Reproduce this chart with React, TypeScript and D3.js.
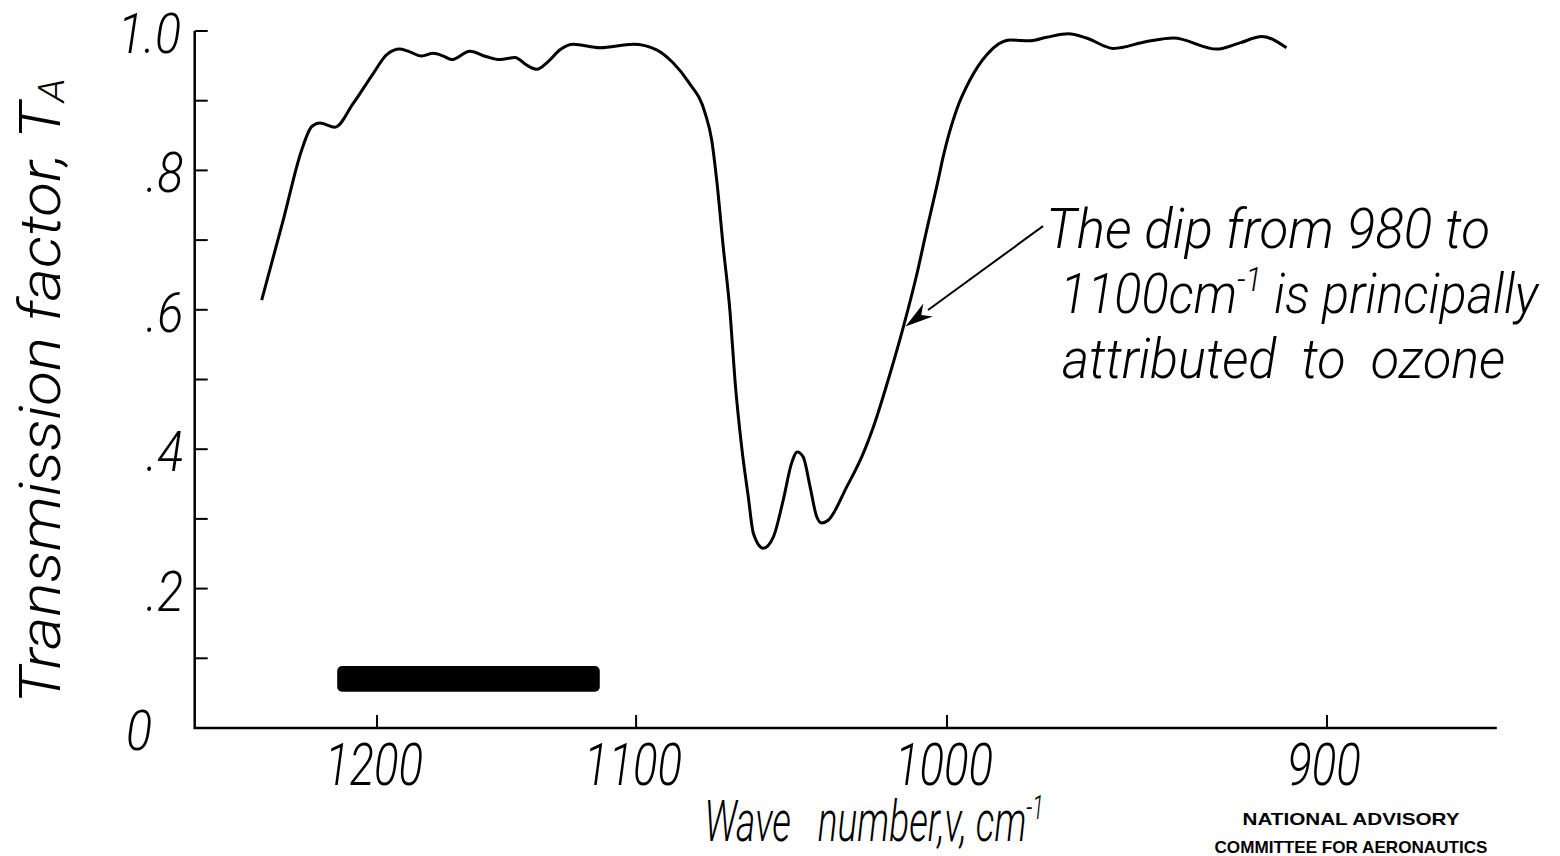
import React from 'react';
import * as d3 from 'd3';

// Wave number (cm^-1) and transmission factor T_A
const waveNumber = [
  1250.6, 1240.8, 1232.6, 1228.1, 1224.5, 1218.0, 1210.1, 1201.6, 1195.9, 1190.4,
  1186.3, 1181.5, 1176.8, 1172.7, 1169.4, 1162.1, 1155.5, 1150.4, 1144.6, 1140.1,
  1136.3, 1132.0, 1127.6, 1122.7, 1112.9, 1101.0, 1092.8, 1087.0, 1081.8, 1076.1,
  1073.9, 1072.2, 1070.0, 1067.7, 1066.1, 1063.9, 1061.7, 1060.0, 1056.8, 1053.5,
  1050.3, 1047.6, 1045.8, 1043.9, 1041.7, 1039.6, 1038.0, 1036.0, 1030.2, 1025.1,
  1022.0, 1016.9, 1012.9, 1008.9, 1006.0, 1002.6, 1001.1, 997.2, 993.3, 988.5,
  981.9, 976.3, 971.7, 965.7, 960.8, 953.6, 944.8, 937.9, 926.9, 921.1,
  915.7, 909.7,
];
const transmission = [
  0.614, 0.729, 0.829, 0.863, 0.868, 0.862, 0.896, 0.939, 0.966, 0.974,
  0.970, 0.964, 0.968, 0.964, 0.959, 0.971, 0.963, 0.959, 0.962, 0.951,
  0.945, 0.956, 0.973, 0.981, 0.976, 0.981, 0.973, 0.954, 0.927, 0.882,
  0.844, 0.786, 0.690, 0.595, 0.499, 0.404, 0.332, 0.279, 0.258, 0.274,
  0.327, 0.380, 0.396, 0.389, 0.346, 0.303, 0.294, 0.298, 0.346, 0.394,
  0.432, 0.509, 0.576, 0.651, 0.714, 0.786, 0.820, 0.887, 0.930, 0.966,
  0.987, 0.986, 0.991, 0.996, 0.990, 0.975, 0.985, 0.990, 0.974, 0.983,
  0.992, 0.976,
];

const xTicks = [1200, 1100, 1000, 900];
const xTickLabels = ['1200', '1100', '1000', '900'];
const yMajorTicks = [0, 0.2, 0.4, 0.6, 0.8, 1.0];
const yTickLabels = ['0', '.2', '.4', '.6', '.8', '1.0'];
const yMinorTicks = [0.1, 0.3, 0.5, 0.7, 0.9];
const xDomainEnds = [1282, 861.5];

const smudgeSpan = [1217, 1113];
const smudgeLevels = [0.052, 0.089];

const arrowFrom = [972.7, 0.72];
const arrowTo = [1012.3, 0.576];

const noteLine1 = 'The dip from 980 to';
const noteLine2a = '1100cm';
const noteLine2sup = '-1';
const noteLine2b = ' is principally';
const noteLine3 = 'attributed\u00A0 to\u00A0 ozone';
const creditLines = ['NATIONAL ADVISORY', 'COMMITTEE FOR AERONAUTICS'];
const creditWidths = [217, 273];

const W = 1560;
const H = 856;
const LET = "Roboto, 'DejaVu Sans', sans-serif";

export default function App() {
  // the abscissa is linear in wavelength (1/wave number)
  const lam = d3.scaleLinear().domain([1e4 / 1200, 1e4 / 900]).range([377, 1327]);
  const x = (nu: number) => lam(1e4 / nu);
  const y = d3.scaleLinear().domain([0, 1]).range([728, 31]);

  const pts: [number, number][] = waveNumber.map((v, i) => [v, transmission[i]]);
  const line = d3
    .line<[number, number]>()
    .x((d) => x(d[0]))
    .y((d) => y(d[1]))
    .curve(d3.curveMonotoneX);

  const x0 = x(xDomainEnds[0]);
  const x1 = x(xDomainEnds[1]);
  const yb = y(0);
  const yt = y(1);

  const ax = x(arrowFrom[0]);
  const ay = y(arrowFrom[1]);
  const bx = x(arrowTo[0]);
  const by = y(arrowTo[1]);
  const ang = Math.atan2(by - ay, bx - ax);
  const hl = 28;
  const hw = 8;
  const ux = Math.cos(ang);
  const uy = Math.sin(ang);
  const baseX = bx - ux * hl;
  const baseY = by - uy * hl;
  const notchX = bx - ux * hl * 0.7;
  const notchY = by - uy * hl * 0.7;
  const head = `M${bx},${by} L${baseX - uy * hw},${baseY + ux * hw} L${notchX},${notchY} L${baseX + uy * hw},${baseY - ux * hw} Z`;

  const lab = (
    tx: number,
    ty: number,
    size: number,
    sx: number,
    anchor: string,
    content: React.ReactNode,
    key?: string
  ) => (
    <text
      key={key}
      transform={`translate(${tx},${ty}) scale(${sx},1)`}
      fontSize={size}
      fontFamily={LET}
      fontStyle="italic"
      fontWeight={300}
      textAnchor={anchor}
      fill="#000"
    >
      {content}
    </text>
  );

  const xDot = 152;

  return (
    <svg
      width={W}
      height={H}
      viewBox={`0 0 ${W} ${H}`}
      style={{ position: 'fixed', left: 0, top: 0, background: '#fff' }}
    >
      <rect width={W} height={H} fill="#fff" />
      {/* axes */}
      <path d={`M${x0},${yt} L${x0},${yb} L${x1},${yb}`} fill="none" stroke="#000" strokeWidth={2.5} />
      {yMajorTicks.concat(yMinorTicks).map((t) => (
        <line key={'yt' + t} x1={x0} x2={x0 + 13} y1={y(t)} y2={y(t)} stroke="#000" strokeWidth={2} />
      ))}
      {xTicks.map((t) => (
        <line key={'xt' + t} x1={x(t)} x2={x(t)} y1={yb} y2={yb - 13} stroke="#000" strokeWidth={2} />
      ))}

      {/* y tick labels, aligned on the decimal point */}
      {yTickLabels.map((s, i) => {
        const ty = y(yMajorTicks[i]) + 22;
        if (s.startsWith('.')) return lab(xDot - 6, ty, 55, 0.88, 'start', s, 'yl' + s);
        if (s.includes('.')) return lab(xDot + 29, ty, 55, 0.88, 'end', s, 'yl' + s);
        return lab(xDot, ty, 55, 0.88, 'end', s, 'yl' + s);
      })}

      {/* x tick labels */}
      {xTickLabels.map((s, i) => lab(x(xTicks[i]) - 3, 785, 60, 0.76, 'middle', s, 'xl' + s))}

      {/* axis titles */}
      {lab(
        874,
        841,
        58,
        0.64,
        'middle',
        <>
          {'Wave\u00A0\u00A0 number,ν, cm'}
          <tspan fontSize={33} dy={-22}>{'-1'}</tspan>
        </>,
        'xtitle'
      )}
      <text
        transform={`translate(60,391) rotate(-90) scale(1.1,1)`}
        fontSize={58}
        fontFamily={LET}
        fontStyle="italic"
        fontWeight={300}
        textAnchor="middle"
      >
        {'Transmission factor, T'}
        <tspan fontSize={36} dy={4}>A</tspan>
      </text>

      {/* obscured block */}
      <rect
        x={x(smudgeSpan[0])}
        y={y(smudgeLevels[1])}
        width={x(smudgeSpan[1]) - x(smudgeSpan[0])}
        height={y(smudgeLevels[0]) - y(smudgeLevels[1])}
        rx={5}
        fill="#000"
      />

      {/* curve */}
      <path d={line(pts) || ''} fill="none" stroke="#000" strokeWidth={3} strokeLinejoin="round" />

      {/* annotation */}
      <line x1={ax} y1={ay} x2={baseX} y2={baseY} stroke="#000" strokeWidth={2} />
      <path d={head} fill="#000" />
      {lab(1046, 248, 55, 0.964, 'start', noteLine1, 'n1')}
      {lab(
        1060,
        313,
        55,
        0.917,
        'start',
        <>
          {noteLine2a}
          <tspan fontSize={33} dy={-22}>{noteLine2sup}</tspan>
          <tspan dy={22}>{noteLine2b}</tspan>
        </>,
        'n2'
      )}
      {lab(1062, 378, 55, 0.948, 'start', noteLine3, 'n3')}

      {/* credit */}
      {creditLines.map((s, i) => (
        <text
          key={s}
          x={1351}
          y={825 + i * 28}
          fontSize={17}
          fontFamily="'Liberation Sans', Arial, sans-serif"
          fontWeight="bold"
          textAnchor="middle"
          textLength={creditWidths[i]}
          lengthAdjust="spacingAndGlyphs"
        >
          {s}
        </text>
      ))}
    </svg>
  );
}
